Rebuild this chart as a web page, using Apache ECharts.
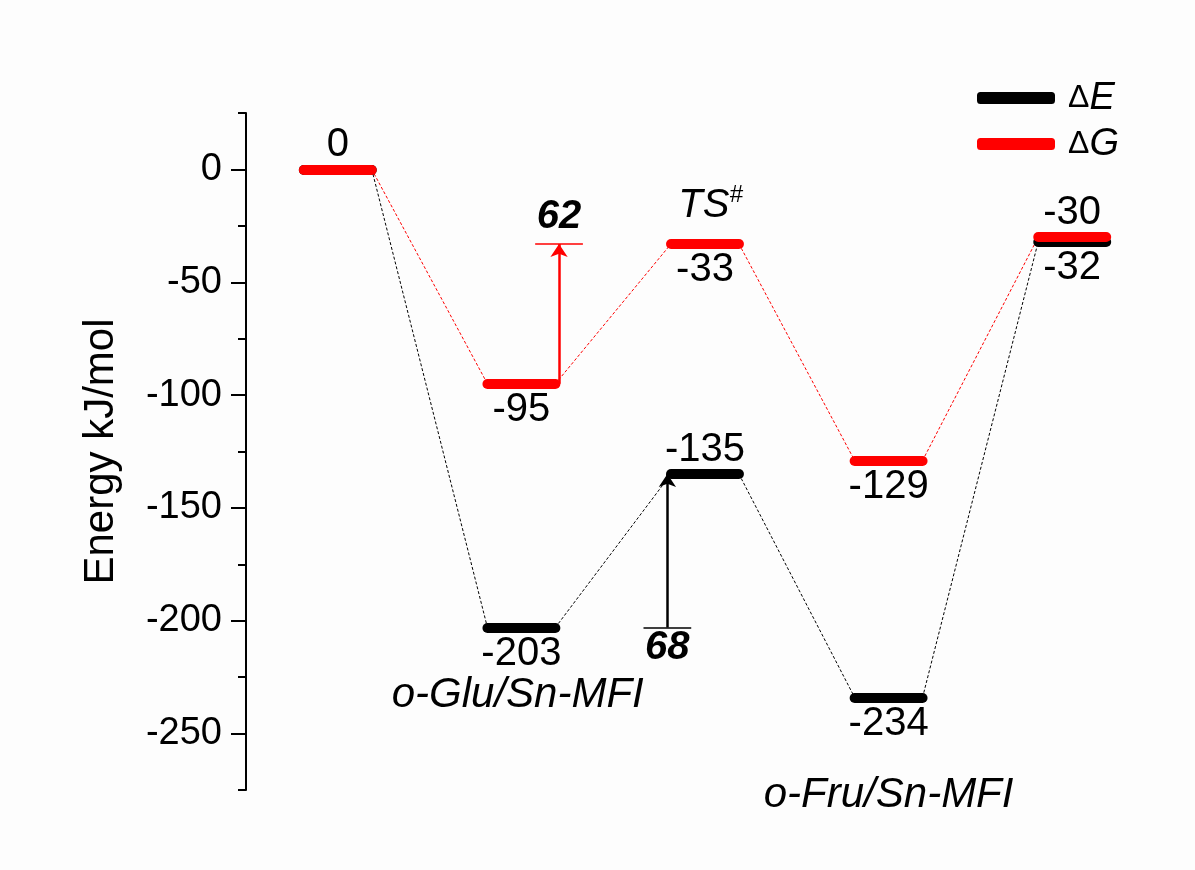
<!DOCTYPE html>
<html>
<head>
<meta charset="utf-8">
<script src="https://cdn.jsdelivr.net/npm/echarts@6/dist/echarts.min.js"></script>
<style>
  html, body { margin: 0; padding: 0; background: #fdfdfd; }
  #chart { width: 1195px; height: 870px; }
</style>
</head>
<body>
<div id="chart"></div>
<script>
  // energy levels (kJ/mol) for the five states
  const states = [0, 1, 2, 3, 4]
  const deltaE = [0, -203, -135, -234, -32]
  const deltaG = [0, -95, -33, -129, -30]
  const yTicks = [0, -50, -100, -150, -200, -250]
  const yMinorTicks = [25, -25, -75, -125, -175, -225, -275]
  // where each level's number sits
  const ePlace = [null, 'bottom', 'top', 'bottom', 'bottom']
  const gPlace = ['top', 'bottom', 'bottom', 'bottom', 'top']

  const FONT = '"Liberation Sans", Arial, sans-serif'
  const HW = 0.185   // half width of a level bar, in state units
  const RED = '#ff0000'
  const CLEAR = 'rgba(0,0,0,0)'

  let plateaus = vals => vals.map((v, i) => ({coords: [[states[i] - HW, v], [states[i] + HW, v]]}))
  let links = vals => vals.slice(1).map((v, i) => ({
    coords: [[states[i] + HW, vals[i]], [states[i + 1] - HW, v]]
  }))
  let valueLabels = (vals, place) => vals.map((v, i) => place[i] ? {
    value: [states[i], v],
    label: {show: true, position: place[i], distance: place[i] == 'top' ? 4 : 6, formatter: String(v)}
  } : null).filter(d => d)

  const xG = states[1] + HW + 0.02
  const xE = states[2] - HW - 0.02

  let chart = echarts.init(document.getElementById('chart'))
  let option = {
    animation: false,
    backgroundColor: '#fdfdfd',
    textStyle: {fontFamily: FONT},
    grid: {left: 246, right: 31, top: 113, bottom: 80},
    legend: {
      orient: 'vertical',
      left: 972,
      top: 74,
      itemWidth: 76,
      itemHeight: 10,
      itemGap: 8,
      selectedMode: false,
      data: [
        {name: 'ΔE', icon: 'roundRect', itemStyle: {color: '#000'}},
        {name: 'ΔG', icon: 'roundRect', itemStyle: {color: RED}}
      ],
      formatter: name => '{d|Δ}{i|' + name.slice(1) + '}',
      textStyle: {
        padding: [0, 0, 0, 9],
        rich: {
          d: {fontSize: 32, color: '#000', fontFamily: FONT},
          i: {fontSize: 38, color: '#000', fontStyle: 'italic', fontFamily: FONT}
        }
      }
    },
    xAxis: {type: 'value', min: -0.5, max: 4.5, show: false},
    yAxis: [
      {
        type: 'value', min: -275, max: 25, position: 'left',
        name: 'Energy kJ/mol', nameLocation: 'middle', nameGap: 124,
        nameTextStyle: {fontSize: 42, color: '#000', fontFamily: FONT},
        axisLine: {show: true, onZero: false, lineStyle: {color: '#000', width: 2}},
        axisTick: {show: true, customValues: yTicks, length: 15, lineStyle: {color: '#000', width: 2}},
        axisLabel: {customValues: yTicks, fontSize: 38, color: '#000', margin: 24, fontFamily: FONT},
        splitLine: {show: false}
      },
      {
        type: 'value', min: -275, max: 25, position: 'left', offset: 0,
        axisLine: {show: false, onZero: false},
        axisTick: {show: true, customValues: yMinorTicks, length: 8, lineStyle: {color: '#000', width: 2}},
        axisLabel: {show: false},
        splitLine: {show: false}
      }
    ],
    series: [
      {
        type: 'lines', coordinateSystem: 'cartesian2d', silent: true, z: 1,
        lineStyle: {color: '#000', width: 1, type: [3, 2], opacity: 1},
        data: links(deltaE)
      },
      {
        type: 'lines', coordinateSystem: 'cartesian2d', silent: true, z: 1,
        lineStyle: {color: RED, width: 1, type: [3, 2], opacity: 1},
        data: links(deltaG)
      },
      {
        name: 'ΔE', type: 'lines', coordinateSystem: 'cartesian2d', z: 2,
        lineStyle: {color: '#000', width: 10, cap: 'round', opacity: 1},
        data: plateaus(deltaE)
      },
      {
        name: 'ΔG', type: 'lines', coordinateSystem: 'cartesian2d', z: 3,
        lineStyle: {color: RED, width: 10, cap: 'round', opacity: 1},
        data: plateaus(deltaG)
      },
      {
        // barrier arrows
        type: 'lines', coordinateSystem: 'cartesian2d', silent: true, z: 4,
        symbol: ['none', 'arrow'], symbolSize: 13,
        lineStyle: {width: 2.5, opacity: 1},
        data: [
          {coords: [[xG, deltaG[1]], [xG, deltaG[2]]], lineStyle: {color: RED}},
          {coords: [[xE, deltaE[1]], [xE, deltaE[2]]], lineStyle: {color: '#000'}}
        ]
      },
      {
        // small bars at the arrow ends
        type: 'lines', coordinateSystem: 'cartesian2d', silent: true, z: 4,
        lineStyle: {width: 1.5, opacity: 1},
        data: [
          {coords: [[xG - 0.13, deltaG[2]], [xG + 0.13, deltaG[2]]], lineStyle: {color: RED}},
          {coords: [[xE - 0.13, deltaE[1]], [xE + 0.13, deltaE[1]]], lineStyle: {color: '#000'}}
        ]
      },
      {
        type: 'scatter', symbolSize: 1, itemStyle: {color: CLEAR, opacity: 1}, silent: true, z: 5,
        label: {color: '#000', fontSize: 40, fontFamily: FONT},
        data: valueLabels(deltaE, ePlace).concat(valueLabels(deltaG, gPlace))
      },
      {
        type: 'scatter', symbolSize: 1, itemStyle: {color: CLEAR, opacity: 1}, silent: true, z: 5, clip: false,
        label: {show: true, color: '#000', fontSize: 42, fontFamily: FONT, fontStyle: 'italic'},
        data: [
          {value: [states[2] + 0.03, -16], label: {position: 'inside', formatter: '{a|TS}{s|#}', rich: {
            a: {fontSize: 40, fontStyle: 'italic', fontFamily: FONT, color: '#000'},
            s: {fontSize: 24, fontStyle: 'italic', fontFamily: FONT, color: '#000', padding: [0, 0, 20, 0]}
          }}},
          {value: [states[1] - 0.02, -233], label: {position: 'inside', formatter: 'o-Glu/Sn-MFI'}},
          {value: [states[3], -277.5], label: {position: 'inside', formatter: 'o-Fru/Sn-MFI'}},
          {value: [xG, deltaG[2]], label: {position: 'top', distance: 6, fontWeight: 'bold', fontSize: 40,
            formatter: String(deltaG[2] - deltaG[1])}},
          {value: [xE, deltaE[1]], label: {position: 'bottom', distance: 0, fontWeight: 'bold', fontSize: 40,
            formatter: String(deltaE[2] - deltaE[1])}}
        ]
      }
    ]
  }
  chart.setOption(option)
</script>
</body>
</html>
